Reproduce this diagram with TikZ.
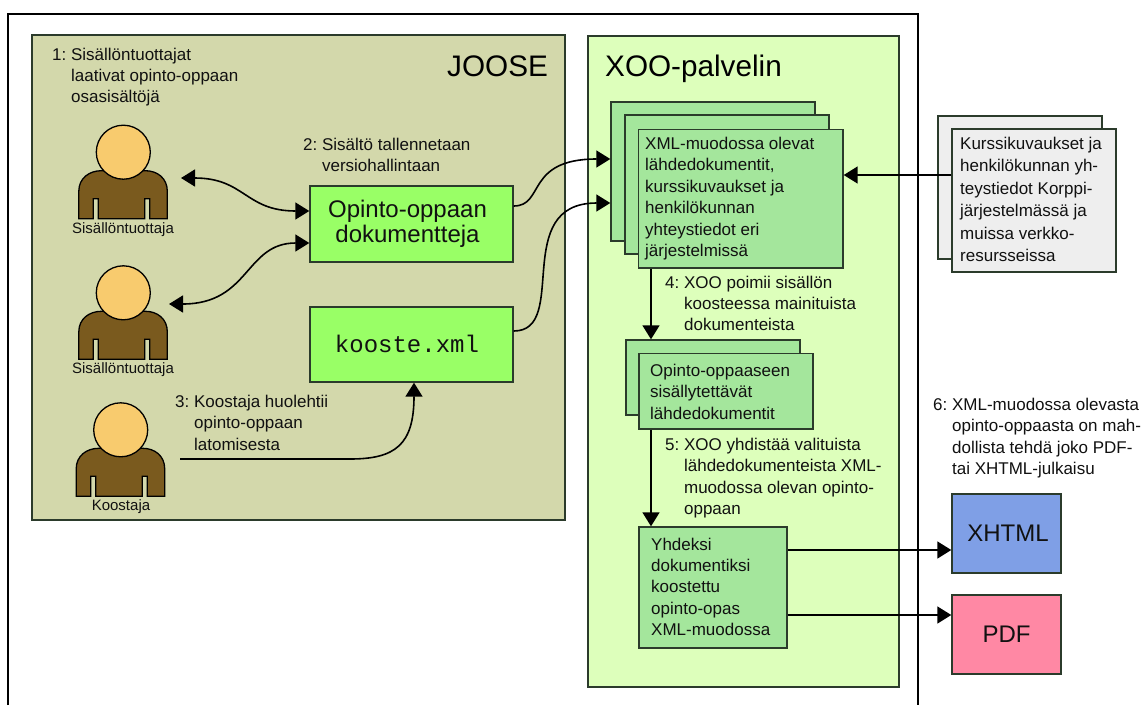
\documentclass[tikz,border=0pt]{standalone}
\usepackage{fontspec}
\setmainfont{Liberation Sans}
\setmonofont{Liberation Mono}
\usetikzlibrary{arrows.meta,shadows}
\frenchspacing
\definecolor{jooseFill}{HTML}{D3D8AB}
\definecolor{xooFill}{HTML}{DDFFBB}
\definecolor{docFill}{HTML}{A4E69C}
\definecolor{srcFill}{HTML}{99FF66}
\definecolor{greyFill}{HTML}{EEEEEE}
\definecolor{htmlFill}{HTML}{7F9FE6}
\definecolor{pdfFill}{HTML}{FF88A4}
\definecolor{skin}{HTML}{F8CB6E}
\definecolor{torso}{HTML}{7A5A1E}
\definecolor{ink}{HTML}{111111}
\definecolor{edge}{HTML}{2B3B2B}
\tikzset{
  x=1pt,y=-1pt,
  box/.style={draw=edge,line width=1.4pt,inner sep=0pt,text=ink,
    drop shadow={shadow xshift=.8pt,shadow yshift=-.8pt,opacity=1,fill=black!70}},
  txt/.style={anchor=north west,inner sep=0pt,align=left,text=ink,font=\fontsize{17}{21.4}\selectfont},
  who/.style={anchor=center,inner sep=0pt,text=ink,font=\fontsize{15}{18}\selectfont},
  title/.style={anchor=base west,inner sep=0pt,text=black,font=\fontsize{29.7}{34}\selectfont},
  big/.style={font=\fontsize{24}{24.5}\selectfont,align=center},
  link/.style={draw=black,line width=1.6pt,-{Triangle[length=14pt,width=17pt]}},
  linkb/.style={draw=black,line width=1.6pt,{Triangle[length=14pt,width=17pt]}-{Triangle[length=14pt,width=17pt]}},
  body/.style={draw=black,line width=1.3pt,fill=torso},
  head/.style={circle,draw=black,line width=1.3pt,fill=skin,minimum size=54pt,inner sep=0pt},
  person/.pic={
    \path[body] (-44.5,66.5) -- (-44.5,39) .. controls (-44.5,26) and (-34,18.5) .. (-22,18.5)
      -- (22,18.5) .. controls (34,18.5) and (44,26) .. (44,39) -- (44,66.5)
      -- (26.5,66.5) -- (26.5,46.5) -- (21.5,46.5) -- (21.5,66.5)
      -- (-25,66.5) -- (-25,46.5) -- (-30,46.5) -- (-30,66.5) -- cycle;
    \node[head] at (0,0) {};
  }
}
\newcommand{\hang}[1]{\phantom{#1:\ }}
\begin{document}
\begin{tikzpicture}
\useasboundingbox (0,0) rectangle (1144,705);
\fill[white] (0,0) rectangle (1144,705);
\coordinate (frameA) at (8,705);
\coordinate (frameB) at (8,14);
\coordinate (frameC) at (918,14);
\coordinate (frameD) at (918,705);
\draw[black,line width=1.6pt] (frameA) -- (frameB) -- (frameC) -- (frameD);

% containers
\node[box,fill=jooseFill,minimum width=533pt,minimum height=485pt] (joose) at (298.5,277.5) {};
\node[box,fill=xooFill,minimum width=311pt,minimum height=651pt] (xoo) at (743.5,361.5) {};
\node[title] (jooseT) at (447,76) {JOOSE};
\node[title] (xooT) at (605,76) {XOO-palvelin};

% people
\pic at (123.3,152.2) {person};
\pic at (123.3,292.8) {person};
\pic at (120.7,429.8) {person};
\node[who] (p1) at (123,229.5) {Sisällöntuottaja};
\node[who] (p2) at (123,370) {Sisällöntuottaja};
\node[who] (p3) at (121,507) {Koostaja};
\coordinate (p1e) at (181,178);
\coordinate (p2e) at (169,304);
\coordinate (p3e) at (180,459);

% JOOSE boxes
\node[box,fill=srcFill,minimum width=203pt,minimum height=76pt,big] (doc) at (411.5,224) {\raisebox{-.5pt}{Opinto-oppaan}\hspace*{8pt}\\\raisebox{-.5pt}{dokumentteja}\hspace*{8pt}};
\node[box,fill=srcFill,minimum width=203pt,minimum height=75pt,font=\ttfamily\fontsize{24}{27}\selectfont] (kooste) at (411.5,344.5) {\raisebox{1.5pt}{kooste.xml}\hspace*{9pt}};

% stacked documents
\node[box,fill=docFill,minimum width=204pt,minimum height=139pt] (s1) at (713,171.5) {};
\node[box,fill=docFill,minimum width=204pt,minimum height=139pt] (s2) at (727,184.5) {};
\node[box,fill=docFill,minimum width=204.5pt,minimum height=138.5pt] (s3) at (740.75,198.75) {};
\node[txt] (s3T) at (645,137) {XML-muodossa olevat\\lähdedokumentit,\\kurssikuvaukset ja\\henkilökunnan\\yhteystiedot eri\\järjestelmissä};
\node[box,fill=docFill,minimum width=174pt,minimum height=75pt] (m1) at (713,377.5) {};
\node[box,fill=docFill,minimum width=174pt,minimum height=75.5pt] (m2) at (726,391.25) {};
\node[txt] (m2T) at (650,364) {Opinto-oppaaseen\\sisällytettävät\\lähdedokumentit};
\node[box,fill=docFill,minimum width=148pt,minimum height=121pt] (fin) at (713,587.5) {};
\node[txt] (finT) at (651,537.5) {Yhdeksi\\dokumentiksi\\koostettu\\opinto-opas\\XML-muodossa};

% external
\node[box,fill=greyFill,minimum width=164pt,minimum height=143pt] (g1) at (1020,187.5) {};
\node[box,fill=greyFill,minimum width=164pt,minimum height=143pt] (g2) at (1034,200.5) {};
\node[txt,font=\fontsize{17}{22.4}\selectfont] (g2T) at (960,137) {Kurssikuvaukset ja\\henkilökunnan yh-\\teystiedot Korppi-\\järjestelmässä ja\\muissa verkko-\\resursseissa};
\node[box,fill=htmlFill,minimum width=109pt,minimum height=79pt,big] (xhtml) at (1006.5,533.5) {\raisebox{-1pt}{\hspace*{3pt}XHTML}};
\node[box,fill=pdfFill,minimum width=109pt,minimum height=79pt,big] (pdf) at (1006.5,634.5) {\raisebox{-1.5pt}{PDF}};

% step labels
\node[txt] (t1) at (52,47.5) {1: Sisällöntuottajat\\\hang{1}laativat opinto-oppaan\\\hang{1}osasisältöjä};
\node[txt] (t2) at (303,138) {2: Sisältö tallennetaan\\\hang{2}versiohallintaan};
\node[txt] (t3) at (175,395) {3: Koostaja huolehtii\\\hang{3}opinto-oppaan\\\hang{3}latomisesta};
\node[txt] (t4) at (665,275.5) {4: XOO poimii sisällön\\\hang{4}koosteessa mainituista\\\hang{4}dokumenteista};
\node[txt] (t5) at (665,438) {5: XOO yhdistää valituista\\\hang{5}lähdedokumenteista XML-\\\hang{5}muodossa olevan opinto-\\\hang{5}oppaan};
\node[txt] (t6) at (933,398) {6: XML-muodossa olevasta\\\hang{6}opinto-oppaasta on mah-\\\hang{6}dollista tehdä joko PDF-\\\hang{6}tai XHTML-julkaisu};

% connectors
\draw[linkb] (p1e) .. controls (245,178) and (245,211) .. ([yshift=13pt]doc.west);
\draw[linkb] (p2e) .. controls (250,304) and (245,243) .. ([yshift=-19pt]doc.west);
\draw[link] (p3e) -- (350,459) .. controls (395,459) and (414,445) .. ([xshift=2.5pt]kooste.south);
\draw[link] (doc.east) ++(0,-18) .. controls (545,206) and (525,159) .. ([yshift=12.5pt]s1.west);
\draw[link] (kooste.east) ++(0,-13.5) .. controls (570,331) and (510,203) .. ([yshift=-31.5pt]s1.west);
\draw[link] (g2.west |- s3.east) ++(0,-23.75) -- ([yshift=23.75pt]s3.east);
\draw[link] ([xshift=-89.75pt]s3.south) -- ([xshift=-62pt]m1.north);
\draw[link] ([xshift=-75pt]m2.south) -- ([xshift=-62pt]fin.north);
\draw[link] ([yshift=37.5pt]fin.east) -- ([yshift=-16.5pt]xhtml.west);
\draw[link] ([yshift=-27.5pt]fin.east) -- ([yshift=19.5pt]pdf.west);
\end{tikzpicture}
\end{document}
